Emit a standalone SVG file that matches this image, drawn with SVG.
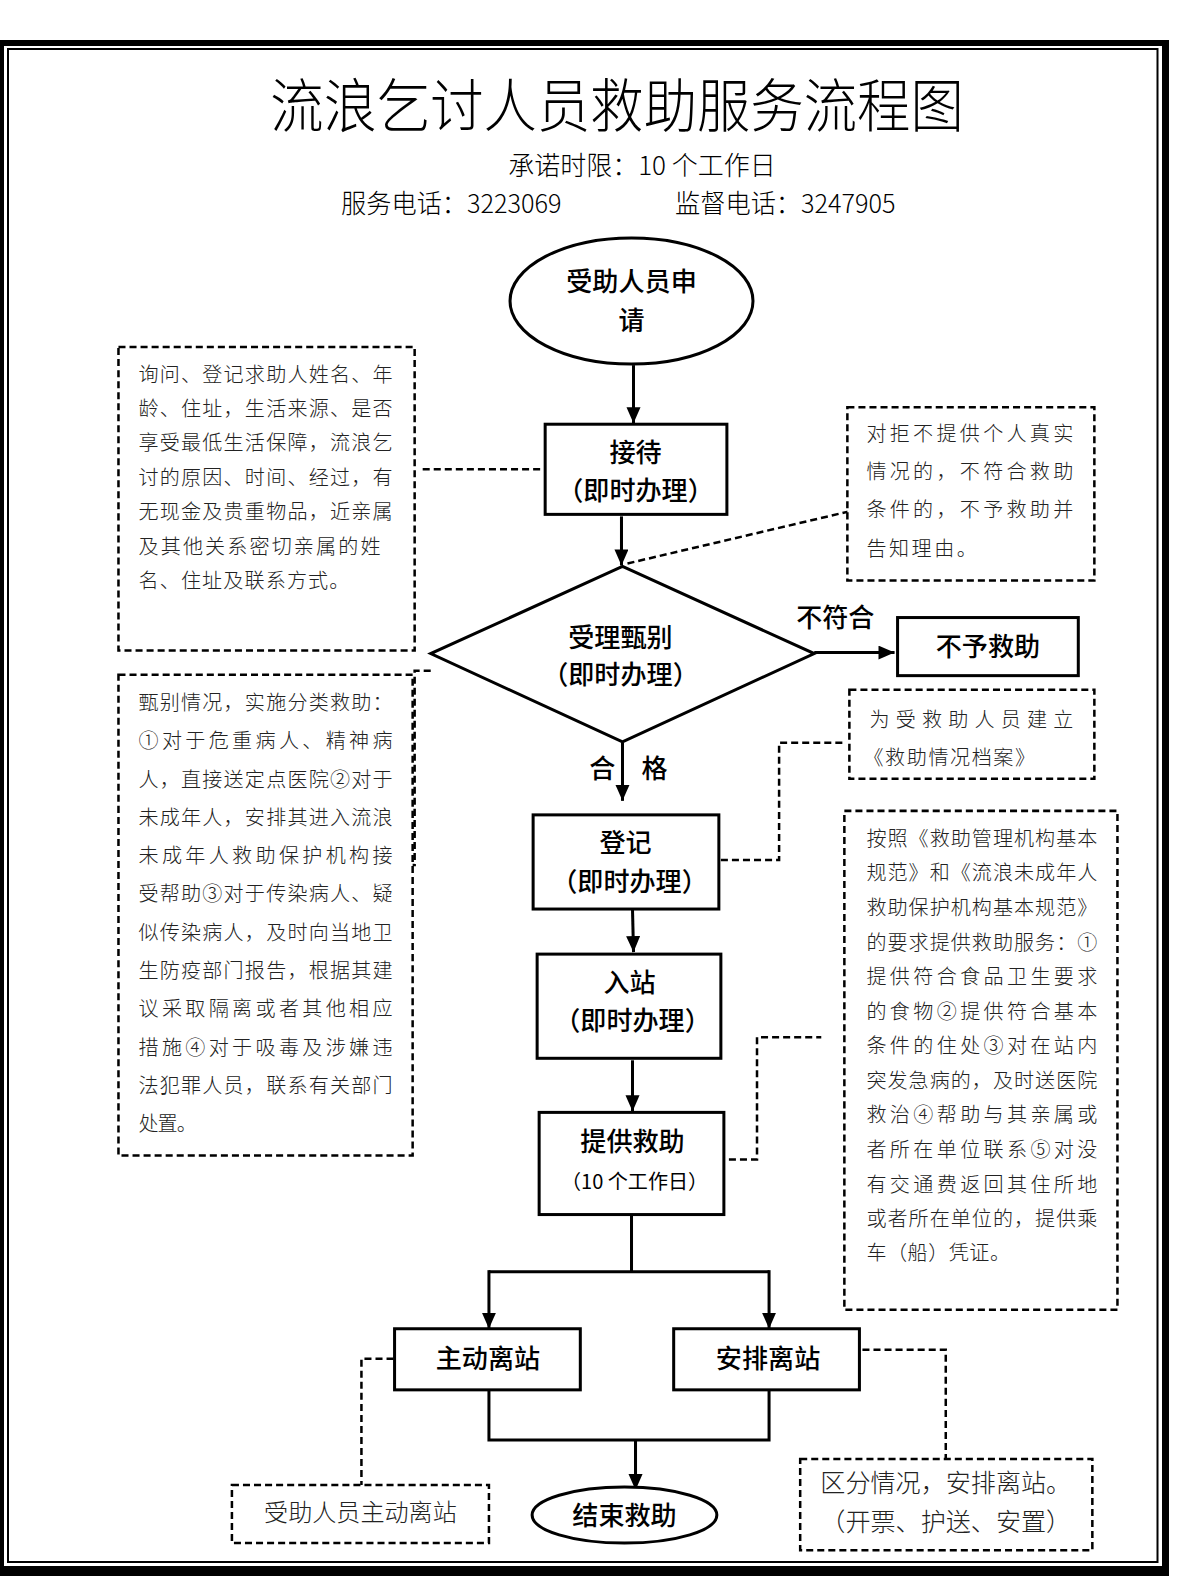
<svg xmlns="http://www.w3.org/2000/svg" width="1187" height="1576" viewBox="0 0 1187 1576">
<style>
.t{font-family:"Noto Sans CJK SC","Noto Sans",sans-serif;fill:#000}
.lbl{font-size:26px;text-anchor:middle;font-weight:500}
.note{font-size:20px;fill:#222;font-weight:300}
.box{fill:#fff;stroke:#000;stroke-width:3}
.dbox{fill:#fff;stroke:#000;stroke-width:2.5;stroke-dasharray:7 4}
.dl{fill:none;stroke:#000;stroke-width:2.5;stroke-dasharray:7 4}
.ln{fill:none;stroke:#000;stroke-width:3}
</style>
<defs>
<marker id="ah" markerUnits="userSpaceOnUse" markerWidth="16" markerHeight="14" refX="16" refY="7" orient="auto">
<path d="M0,0 L16,7 L0,14 z" fill="#000"/>
</marker>
</defs>
<rect width="1187" height="1576" fill="#fff"/>
<g id="frame">
<path d="M-5,40 H1169 V1580 H-5 Z M4,46 V1566 H1162 V46 Z" fill="#000" fill-rule="evenodd"/>
<rect x="8" y="49" width="1149.5" height="1513" fill="none" stroke="#000" stroke-width="2"/>
</g>
<g id="header" class="t">
<text transform="translate(617,127) scale(0.92,1)" font-size="58" text-anchor="middle" font-weight="300">流浪乞讨人员救助服务流程图</text>
<text x="642" y="175" font-size="26" text-anchor="middle" font-weight="300">承诺时限：10 个工作日</text>
<text transform="translate(341,213) scale(0.97,1)" font-size="26" font-weight="300">服务电话：3223069</text>
<text transform="translate(675,213) scale(0.97,1)" font-size="26" font-weight="300">监督电话：3247905</text>
</g>
<g id="content" transform="matrix(1.004,0,0,1.0017,1,1.5)">
<g id="connectors">
<line class="ln" x1="630" y1="363" x2="630" y2="421" marker-end="url(#ah)"/>
<line class="ln" x1="618" y1="514" x2="618" y2="563" marker-end="url(#ah)"/>
<line class="ln" x1="810" y1="650" x2="890" y2="650" marker-end="url(#ah)"/>
<line class="ln" x1="619" y1="740" x2="619" y2="798" marker-end="url(#ah)"/>
<line class="ln" x1="629" y1="907" x2="630" y2="949" marker-end="url(#ah)"/>
<line class="ln" x1="629" y1="1057" x2="629" y2="1108" marker-end="url(#ah)"/>
<path class="ln" d="M628,1212 V1268 M486,1268 H765"/>
<line class="ln" x1="486" y1="1266.5" x2="486" y2="1325" marker-end="url(#ah)"/>
<line class="ln" x1="765" y1="1266.5" x2="765" y2="1325" marker-end="url(#ah)"/>
<path class="ln" d="M486,1387 V1436 H765 V1387"/>
<line class="ln" x1="632" y1="1436" x2="632" y2="1486" marker-end="url(#ah)"/>
<line class="dl" x1="420" y1="467" x2="541" y2="467"/>
<line class="dl" x1="624" y1="561" x2="845" y2="509"/>
<path class="dl" d="M428,668 H412 V862 H403"/>
<path class="dl" d="M717,857 H775 V740 H842"/>
<path class="dl" d="M703,1156 H753 V1034 H817"/>
<path class="dl" d="M391,1355 H359 V1481"/>
<path class="dl" d="M858,1346 H941 V1455"/>
</g>
<g id="n_start">
<ellipse cx="628" cy="299" rx="121" ry="63" class="box"/>
<text class="t lbl" x="628" y="289">受助人员申</text>
<text class="t lbl" x="628" y="328">请</text>
</g>
<g id="n_jiedai">
<rect x="542" y="422" width="181" height="90" class="box"/>
<text class="t lbl" x="632" y="460">接待</text>
<text class="t lbl" x="632" y="498">（即时办理）</text>
</g>
<g id="n_decide">
<polygon points="619,564 810,651 619,739 428,651" class="box"/>
<text class="t lbl" x="617" y="644">受理甄别</text>
<text class="t lbl" x="617" y="681">（即时办理）</text>
</g>
<g id="n_buyu">
<text class="t lbl" x="831" y="624">不符合</text>
<rect x="893" y="615" width="180" height="58" class="box"/>
<text class="t lbl" x="983" y="653">不予救助</text>
</g>
<g id="lbl_hege" class="t">
<text class="lbl" x="599" y="775">合</text>
<text class="lbl" x="651" y="775">格</text>
</g>
<g id="n_dengji">
<rect x="530" y="812" width="185" height="94" class="box"/>
<text class="t lbl" x="622" y="849">登记</text>
<text class="t lbl" x="626" y="888">（即时办理）</text>
</g>
<g id="n_ruzhan">
<rect x="534" y="951" width="183" height="104" class="box"/>
<text class="t lbl" x="626" y="989">入站</text>
<text class="t lbl" x="629" y="1027">（即时办理）</text>
</g>
<g id="n_help">
<rect x="536" y="1109" width="184" height="102" class="box"/>
<text class="t lbl" x="629" y="1148">提供救助</text>
<text class="t" x="631" y="1185" font-size="20" text-anchor="middle">（10 个工作日）</text>
</g>
<g id="n_zhudong">
<rect x="392" y="1325" width="185" height="61" class="box"/>
<text class="t lbl" x="485" y="1364">主动离站</text>
</g>
<g id="n_anpai">
<rect x="670" y="1325" width="185" height="61" class="box"/>
<text class="t lbl" x="764" y="1364">安排离站</text>
</g>
<g id="n_end">
<ellipse cx="621" cy="1511" rx="92" ry="28" class="box"/>
<text class="t lbl" x="621" y="1521">结束救助</text>
</g>
<g id="note_jiedai" class="t note">
<rect x="117" y="345" width="295" height="303" class="dbox"/>
<text x="137" y="380" textLength="253" lengthAdjust="spacing">询问、登记求助人姓名、年</text>
<text x="137" y="414" textLength="253" lengthAdjust="spacing">龄、住址，生活来源、是否</text>
<text x="137" y="448" textLength="253" lengthAdjust="spacing">享受最低生活保障，流浪乞</text>
<text x="137" y="483" textLength="253" lengthAdjust="spacing">讨的原因、时间、经过，有</text>
<text x="137" y="517" textLength="253" lengthAdjust="spacing">无现金及贵重物品，近亲属</text>
<text x="137" y="552" textLength="241" lengthAdjust="spacing">及其他关系密切亲属的姓</text>
<text x="137" y="586" textLength="210" lengthAdjust="spacing">名、住址及联系方式。</text>
</g>
<g id="note_refuse" class="t note">
<rect x="843" y="405" width="246" height="173" class="dbox"/>
<text x="862" y="439" textLength="206" lengthAdjust="spacing">对拒不提供个人真实</text>
<text x="862" y="477" textLength="206" lengthAdjust="spacing">情况的，不符合救助</text>
<text x="862" y="515" textLength="206" lengthAdjust="spacing">条件的，不予救助并</text>
<text x="862" y="554" textLength="110" lengthAdjust="spacing">告知理由。</text>
</g>
<g id="note_classify" class="t note">
<rect x="117" y="672" width="293" height="480" class="dbox"/>
<text x="137" y="707" textLength="253" lengthAdjust="spacing">甄别情况，实施分类救助：</text>
<text x="137" y="745" textLength="253" lengthAdjust="spacing">①对于危重病人、精神病</text>
<text x="137" y="784" textLength="253" lengthAdjust="spacing">人，直接送定点医院②对于</text>
<text x="137" y="822" textLength="253" lengthAdjust="spacing">未成年人，安排其进入流浪</text>
<text x="137" y="860" textLength="253" lengthAdjust="spacing">未成年人救助保护机构接</text>
<text x="137" y="898" textLength="253" lengthAdjust="spacing">受帮助③对于传染病人、疑</text>
<text x="137" y="937" textLength="253" lengthAdjust="spacing">似传染病人，及时向当地卫</text>
<text x="137" y="975" textLength="253" lengthAdjust="spacing">生防疫部门报告，根据其建</text>
<text x="137" y="1013" textLength="253" lengthAdjust="spacing">议采取隔离或者其他相应</text>
<text x="137" y="1052" textLength="253" lengthAdjust="spacing">措施④对于吸毒及涉嫌违</text>
<text x="137" y="1090" textLength="253" lengthAdjust="spacing">法犯罪人员，联系有关部门</text>
<text x="137" y="1128" textLength="58" lengthAdjust="spacing">处置。</text>
</g>
<g id="note_archive" class="t note">
<rect x="845" y="687" width="244" height="89" class="dbox"/>
<text x="865" y="724" textLength="203" lengthAdjust="spacing">为受救助人员建立</text>
<text x="859" y="762" textLength="171" lengthAdjust="spacing">《救助情况档案》</text>
</g>
<g id="note_service" class="t note">
<rect x="840" y="808" width="272" height="498" class="dbox"/>
<text x="862" y="843" textLength="230" lengthAdjust="spacing">按照《救助管理机构基本</text>
<text x="862" y="877" textLength="230" lengthAdjust="spacing">规范》和《流浪未成年人</text>
<text x="862" y="912" textLength="230" lengthAdjust="spacing">救助保护机构基本规范》</text>
<text x="862" y="947" textLength="230" lengthAdjust="spacing">的要求提供救助服务：①</text>
<text x="862" y="981" textLength="230" lengthAdjust="spacing">提供符合食品卫生要求</text>
<text x="862" y="1016" textLength="230" lengthAdjust="spacing">的食物②提供符合基本</text>
<text x="862" y="1050" textLength="230" lengthAdjust="spacing">条件的住处③对在站内</text>
<text x="862" y="1085" textLength="230" lengthAdjust="spacing">突发急病的，及时送医院</text>
<text x="862" y="1119" textLength="230" lengthAdjust="spacing">救治④帮助与其亲属或</text>
<text x="862" y="1154" textLength="230" lengthAdjust="spacing">者所在单位联系⑤对没</text>
<text x="862" y="1188" textLength="230" lengthAdjust="spacing">有交通费返回其住所地</text>
<text x="862" y="1222" textLength="230" lengthAdjust="spacing">或者所在单位的，提供乘</text>
<text x="862" y="1256" textLength="143" lengthAdjust="spacing">车（船）凭证。</text>
</g>
<g id="note_self" class="t">
<rect x="230" y="1481" width="256" height="58" class="dbox"/>
<text x="358" y="1517" font-size="24" text-anchor="middle" font-weight="300" fill="#222">受助人员主动离站</text>
</g>
<g id="note_arrange" class="t">
<rect x="796" y="1455" width="291" height="91" class="dbox"/>
<text x="941" y="1488" font-size="25" text-anchor="middle" font-weight="300" fill="#222">区分情况，安排离站。</text>
<text x="941" y="1527" font-size="25" text-anchor="middle" font-weight="300" fill="#222">（开票、护送、安置）</text>
</g>
</g>
</svg>
